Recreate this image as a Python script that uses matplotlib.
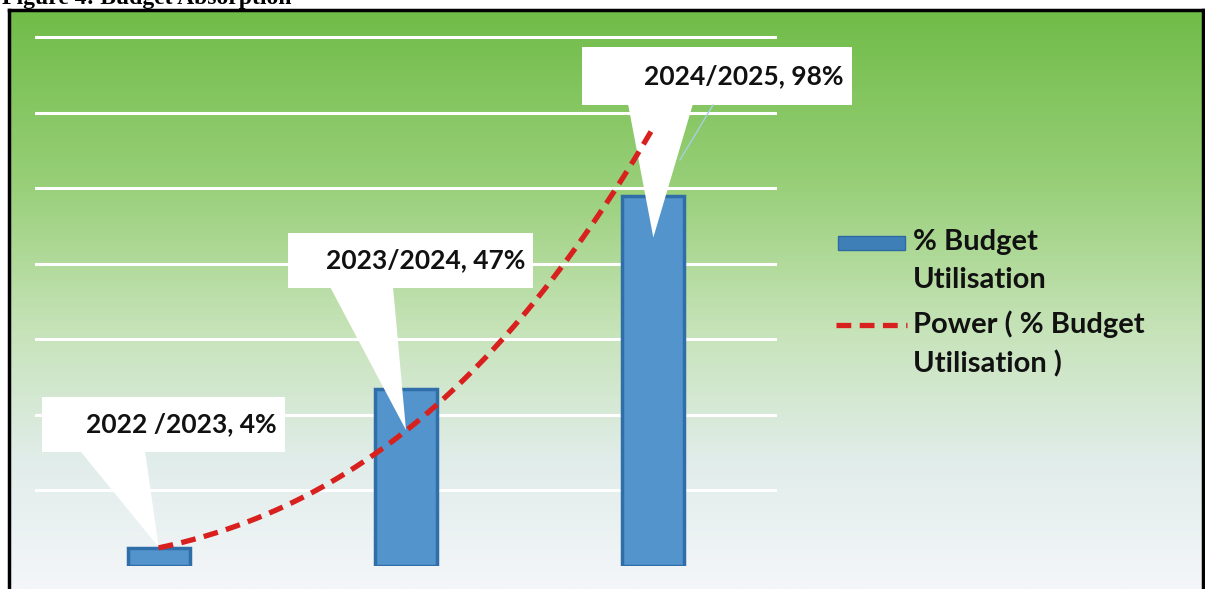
import matplotlib
matplotlib.use("Agg")
import matplotlib.pyplot as plt
import numpy as np
from matplotlib.patches import Polygon, Rectangle
from matplotlib.lines import Line2D
from matplotlib.colors import LinearSegmentedColormap

# data
years = ["2022 /2023", "2023/2024", "2024/2025"]
utilisation = [4.8, 47, 98]
labels = ["2022 /2023, 4%", "2023/2024, 47%", "2024/2025, 98%"]
# power trend y = a * x^b as drawn in the chart
trend_a = 4.8
trend_b = 2.9
# where each callout points (value on the y scale)
tip_vals = [5.0, 36, 87]

W, H = 1205, 589
fig = plt.figure(figsize=(W / 100, H / 100), dpi=100)
fig.patch.set_facecolor("white")

def fx(x):
    return x / W

def fy(y):
    return 1 - y / H

# framed background with green -> white gradient
bg = fig.add_axes([fx(9), 0, fx(1203) - fx(9), fy(10)])
cmap = LinearSegmentedColormap.from_list("bg", [
    (0.0, "#70bc48"), (0.3, "#98cf78"), (0.55, "#c6e3b8"),
    (0.78, "#e1edea"), (1.0, "#f4f6f9")])
grad = np.linspace(0, 1, 256).reshape(-1, 1)
bg.imshow(grad, aspect="auto", cmap=cmap, extent=[0, 1, 1, 0])
bg.set_xlim(0, 1)
bg.set_ylim(1, 0)
bg.set_xticks([])
bg.set_yticks([])
for s in ["left", "right", "top"]:
    bg.spines[s].set_linewidth(2.5)
    bg.spines[s].set_color("black")
bg.spines["bottom"].set_visible(False)

# main plot area
ymax = 145
ax = fig.add_axes([fx(35), fy(566), fx(777) - fx(35), (566 - 18.5) / H])
ax.patch.set_alpha(0)
ax.set_xlim(-0.5, 2.5)
ax.set_ylim(0, ymax)
ax.set_yticks(np.arange(20, 141, 20))
ax.yaxis.grid(True, color="white", linewidth=2.2)
ax.set_axisbelow(True)
ax.tick_params(left=False, bottom=False, labelleft=False, labelbottom=False)
for s in ax.spines.values():
    s.set_visible(False)

x = np.arange(len(years))
ax.bar(x, utilisation, width=0.25, color="#5294cb", edgecolor="#2f6ea8",
       linewidth=2.5, zorder=2)

# power trend line
xs = np.linspace(0, 2, 200)
ax.plot(xs, trend_a * (xs + 1) ** trend_b, color="#d8211f", lw=3.8,
        dashes=(2.8, 1.6), zorder=4)

# callout boxes (pixel boxes) with pointer to data
boxes = [(42, 397, 285, 452, 80, 145),
         (288, 233, 533, 288, 330, 393),
         (582, 47, 852, 105, 628, 693)]
inv = fig.transFigure.inverted()
for i, (l, t, r, b, p0, p1) in enumerate(boxes):
    tip = inv.transform(ax.transData.transform((i, tip_vals[i])))
    ax.add_patch(Rectangle((fx(l), fy(b)), fx(r) - fx(l), fy(t) - fy(b),
                           transform=fig.transFigure, facecolor="white",
                           edgecolor="none", zorder=3, clip_on=False))
    ax.add_patch(Polygon([(fx(p0), fy(b) + 0.002), (fx(p1), fy(b) + 0.002), tip],
                         transform=fig.transFigure, facecolor="white",
                         edgecolor="none", zorder=3, clip_on=False))
    fig.text(fx(r - 8), (fy(t) + fy(b)) / 2, labels[i], ha="right", va="center",
             fontsize=19, fontweight="bold", family="Lato", color="#111111",
             zorder=6)

# thin leader line under the top callout
ax.add_line(Line2D([fx(713), fx(680)], [fy(105), fy(160)], transform=fig.transFigure,
                   color="#a9cfe0", lw=1, zorder=3, clip_on=False))

# legend drawn by hand
fig.patches.append(Rectangle((fx(838), fy(250)), fx(905) - fx(838), fy(236) - fy(250),
                             transform=fig.transFigure, facecolor="#3f7fb8",
                             edgecolor="#2c6aa3", lw=1))
fig.lines.append(Line2D([fx(836), fx(907)], [fy(325), fy(325)],
                        transform=fig.transFigure, color="#d8211f", lw=3.8,
                        dashes=(2.8, 1.6)))
lkw = dict(fontsize=21, fontweight="bold", family="Lato", color="#111111",
           va="center", ha="left", linespacing=1.55)
fig.text(fx(913), fy(261), "% Budget\nUtilisation", **lkw)
fig.text(fx(913), fy(344), "Power ( % Budget\nUtilisation )", **lkw)

# cut-off caption at the top
fig.text(fx(2), fy(4), "Figure 4: Budget Absorption", ha="left", va="baseline",
         fontsize=17, fontweight="bold", family="Liberation Serif")

fig.savefig("out.png", dpi=100)
